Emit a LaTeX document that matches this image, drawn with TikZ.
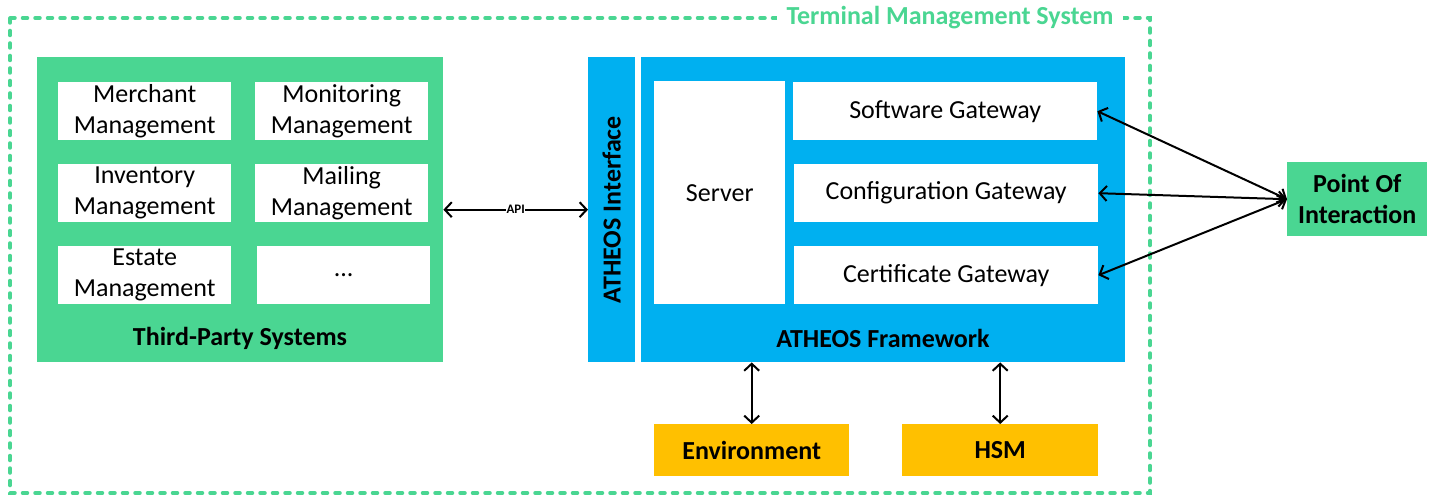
\documentclass[tikz,border=0pt]{standalone}
\usepackage{fontspec}
\setmainfont{Carlito}
\usetikzlibrary{arrows.meta}
\definecolor{tmsgreen}{RGB}{74,214,146}
\definecolor{atblue}{RGB}{0,176,240}
\definecolor{hsmorange}{RGB}{255,192,0}
\tikzset{
  x=1pt, y=-1pt,
  txt/.style={font=\fontsize{26}{31}\selectfont, align=center, text=black},
  btxt/.style={font=\bfseries\fontsize{26}{31}\selectfont, align=center, text=black},
  panel/.style={draw=none, inner sep=0pt, anchor=north west},
  greenpanel/.style={panel, fill=tmsgreen},
  bluepanel/.style={panel, fill=atblue},
  whitebox/.style={panel, fill=white, txt},
  orangebox/.style={panel, fill=hsmorange, btxt},
  dbl/.style={{Straight Barb[length=7pt,width=15pt]}-{Straight Barb[length=7pt,width=15pt]}, line width=2pt, black},
  outline/.style={draw=tmsgreen, line width=3.5pt, line cap=round, dash pattern=on 5pt off 7.5pt}
}
\begin{document}
\begin{tikzpicture}
\useasboundingbox (0,0) rectangle (1435,497);
% outer dashed boundary
\draw[outline] (10,18) rectangle (1150,493);
\node[fill=white, inner xsep=10pt, inner ysep=2pt, font=\bfseries\fontsize{26}{28}\selectfont, text=tmsgreen] (title) at (950,18) {Terminal Management System};

% Third-party systems
\node[greenpanel, minimum width=406pt, minimum height=305pt] (tps) at (37,57) {};
\node[whitebox, minimum width=173pt, minimum height=58pt] (mm) at (58,82) {};
\node[txt] at (mm.center) {Merchant\\Management};
\node[whitebox, minimum width=173pt, minimum height=58pt] (mon) at (255,82) {};
\node[txt] at (mon.center) {Monitoring\\Management};
\node[whitebox, minimum width=173pt, minimum height=58pt] (inv) at (58,164) {};
\node[txt] at (inv.center) {Inventory\\Management};
\node[whitebox, minimum width=173pt, minimum height=58pt] (mail) at (255,164) {};
\node[txt] at (mail.center) {Mailing\\Management};
\node[whitebox, minimum width=173pt, minimum height=58pt] (est) at (58,246) {};
\node[txt] at (est.center) {Estate\\Management};
\node[whitebox, minimum width=173pt, minimum height=58pt] (more) at (257,246) {};
\node[txt] at (more.center) {...};
\node[btxt] (tpslabel) at (240,338) {Third-Party Systems};

% ATHEOS interface
\node[bluepanel, minimum width=47pt, minimum height=305pt] (iface) at (588,57) {};
\node[btxt, rotate=90] (ifacelabel) at (iface.center) {ATHEOS Interface};

% ATHEOS framework
\node[bluepanel, minimum width=484pt, minimum height=305pt] (fw) at (641,57) {};
\node[whitebox, minimum width=131pt, minimum height=223pt] (srv) at (654,81) {};
\node[txt] at (srv.center) {Server};
\node[whitebox, minimum width=304pt, minimum height=58pt] (sw) at (793,82) {};
\node[txt] at (sw.center) {Software Gateway};
\node[whitebox, minimum width=304pt, minimum height=58pt] (cfg) at (794,164) {};
\node[txt] at (cfg.center) {Configuration Gateway};
\node[whitebox, minimum width=304pt, minimum height=58pt] (cert) at (794,246) {};
\node[txt] at (cert.center) {Certificate Gateway};
\node[btxt] (fwlabel) at (883,338) {ATHEOS Framework};

% Point of interaction
\node[greenpanel, minimum width=140pt, minimum height=74pt] (poi) at (1287,162) {};
\node[btxt] at (poi.center) {Point Of\\Interaction};

% Environment and HSM
\node[orangebox, minimum width=195pt, minimum height=52pt] (env) at (654,424) {};
\node[btxt] at (env.center) {Environment};
\node[orangebox, minimum width=196pt, minimum height=52pt] (hsm) at (902,424) {};
\node[btxt] at (hsm.center) {HSM};

% connectors
\draw[dbl] (tps.east) -- node[fill=white, inner xsep=0.5pt, inner ysep=1pt, font=\bfseries\fontsize{13}{14}\selectfont] (api) {API} (iface.west);
\draw[dbl] (poi.west) -- (sw.east);
\draw[dbl] (poi.west) -- (cfg.east);
\draw[dbl] (poi.west) -- (cert.east);
\draw[dbl] (env.north) -- (env.north |- fw.south);
\draw[dbl] (hsm.north) -- (hsm.north |- fw.south);
\end{tikzpicture}
\end{document}
